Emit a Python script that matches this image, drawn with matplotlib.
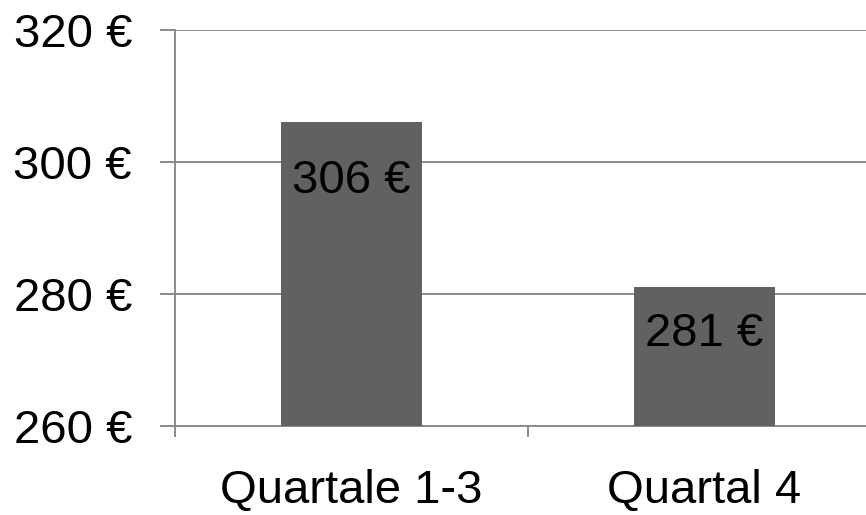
import matplotlib
matplotlib.use("Agg")
import matplotlib.pyplot as plt

categories = ["Quartale 1-3", "Quartal 4"]
values = [306, 281]
yticks = [260, 280, 300, 320]
label_offsets_pt = [-42.5, -33.5]  # vertical offset of value labels below bar tops (points)

plt.rcParams['font.family'] = ['Liberation Sans', 'DejaVu Sans']

fig = plt.figure(figsize=(8.66, 5.15), dpi=100)
ax = fig.add_axes([175/866, (515-426)/515, 706/866, (426-30)/515])

bar_color = "#616161"
grid_color = "#8a8a8a"

x = list(range(len(categories)))
ax.bar(x, values, width=0.4, color=bar_color, zorder=3)

ax.set_xlim(-0.5, len(categories) - 0.5)
ax.set_ylim(yticks[0], yticks[-1])
ax.set_yticks(yticks)
ax.set_yticklabels([f"{v} €" for v in yticks])
ax.set_xticks(x)
ax.set_xticklabels(categories)
ax.set_xticks([i + 0.5 for i in range(-1, len(categories))], minor=True)

ax.yaxis.grid(True, color=grid_color, linewidth=1.4, zorder=0)
ax.set_axisbelow(True)
for s in ["top", "right"]:
    ax.spines[s].set_visible(False)
for s in ["left", "bottom"]:
    ax.spines[s].set_color(grid_color)
    ax.spines[s].set_linewidth(1.4)

ax.tick_params(axis="y", length=11, width=1.4, color=grid_color, pad=20, labelsize=34, labelcolor="black")
ax.tick_params(axis="x", which="major", length=0, pad=31, labelsize=34, labelcolor="black")
ax.tick_params(axis="x", which="minor", length=8, width=1.4, color=grid_color)

for xi, v, off in zip(x, values, label_offsets_pt):
    ax.annotate(f"{v} €", xy=(xi, v), xytext=(0, off), textcoords="offset points",
                ha="center", va="center", fontsize=34, color="black", zorder=4)

fig.savefig("out.png", dpi=100)
